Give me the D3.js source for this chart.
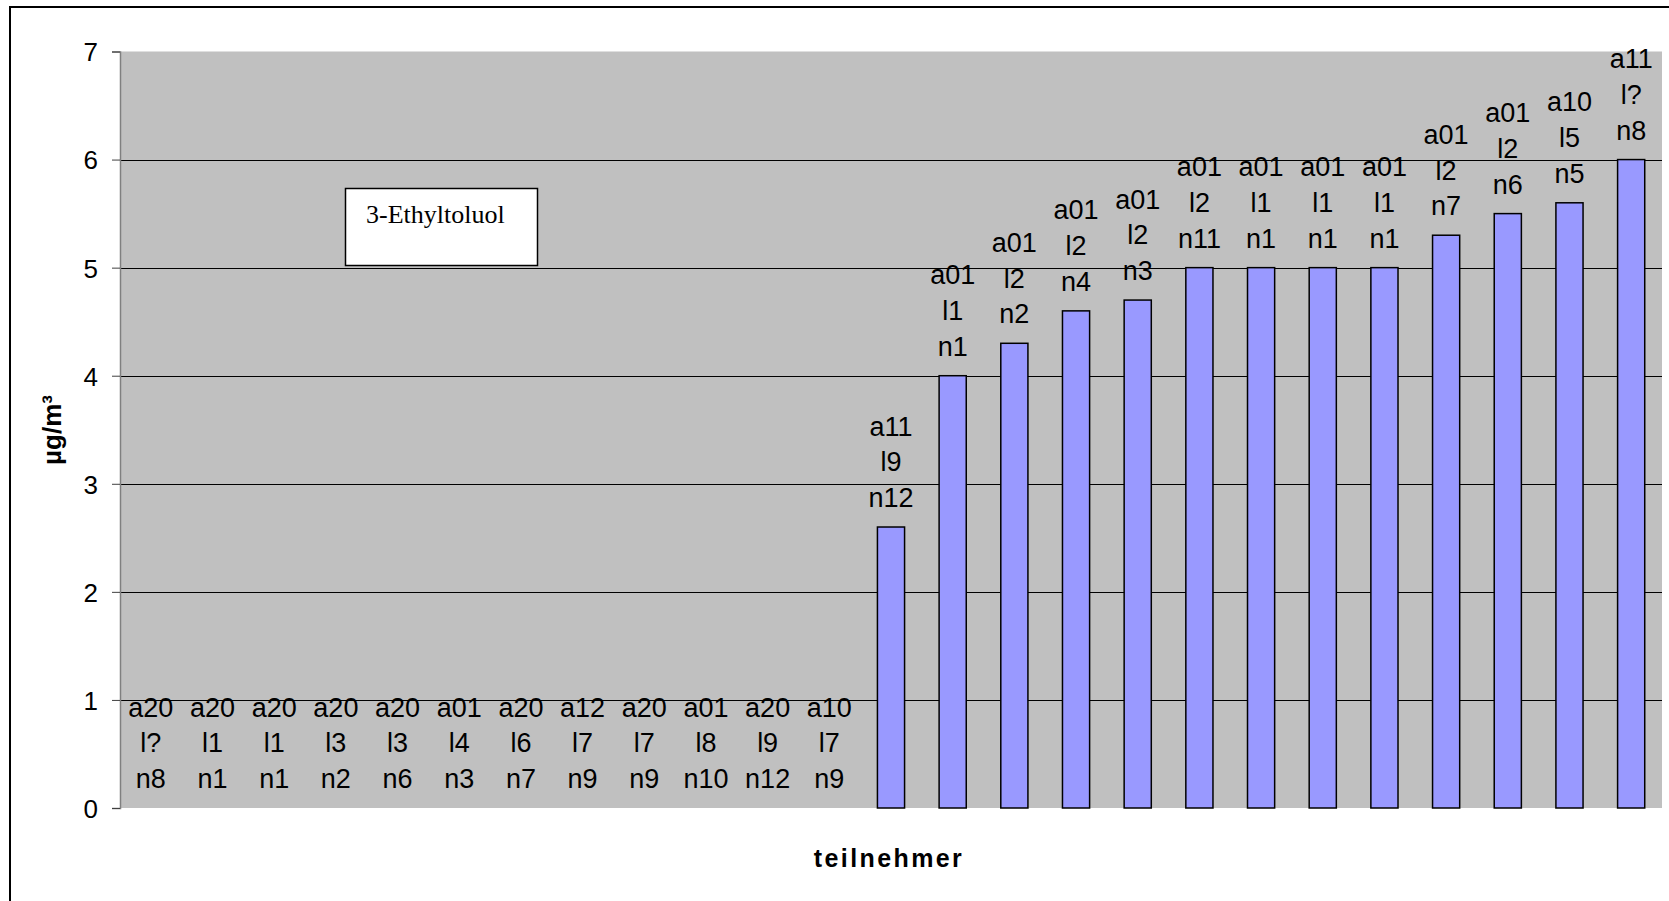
<!DOCTYPE html>
<html>
<head>
<meta charset="utf-8">
<script src="https://cdn.jsdelivr.net/npm/d3@7"></script>
<style>
  html, body { margin: 0; padding: 0; background: #fff; }
  svg { display: block; }
</style>
</head>
<body>
<svg id="chart" width="1669" height="901"></svg>
<script>
// ---- Data ----
const labelA = ["a20","a20","a20","a20","a20","a01","a20","a12","a20","a01","a20","a10",
                "a11","a01","a01","a01","a01","a01","a01","a01","a01","a01","a01","a10","a11"];
const labelL = ["l?","l1","l1","l3","l3","l4","l6","l7","l7","l8","l9","l7",
                "l9","l1","l2","l2","l2","l2","l1","l1","l1","l2","l2","l5","l?"];
const labelN = ["n8","n1","n1","n2","n6","n3","n7","n9","n9","n10","n12","n9",
                "n12","n1","n2","n4","n3","n11","n1","n1","n1","n7","n6","n5","n8"];
const values = [0,0,0,0,0,0,0,0,0,0,0,0,
                2.6,4.0,4.3,4.6,4.7,5.0,5.0,5.0,5.0,5.3,5.5,5.6,6.0];
const yTicks = [0,1,2,3,4,5,6,7];
const boxTitle = "3-Ethyltoluol";
const yTitle = "µg/m³";
const xTitle = "teilnehmer";

const data = values.map((v, i) => ({ idx: i, v, lines: [labelA[i], labelL[i], labelN[i]] }));

// ---- Layout ----
const svg = d3.select("#chart");
const plot = { left: 120, right: 1662, top: 51.5, bottom: 808 };

// outer border (extends beyond the visible image on right/bottom)
svg.append("rect")
  .attr("x", 10).attr("y", 7).attr("width", 1720).attr("height", 1000)
  .attr("fill", "#fff").attr("stroke", "#000").attr("stroke-width", 2);

const x = d3.scaleBand()
  .domain(data.map(d => d.idx))
  .range([plot.left, plot.right])
  .paddingInner(0.56).paddingOuter(0.28);

const y = d3.scaleLinear().domain([0, 7]).range([plot.bottom, plot.top]);

// plot background
svg.append("rect")
  .attr("x", plot.left).attr("y", y(7))
  .attr("width", plot.right - plot.left).attr("height", y(0) - y(7))
  .attr("fill", "#C0C0C0");

// gridlines
svg.append("g").selectAll("line")
  .data(yTicks.filter(t => t > 0 && t < 7))
  .join("line")
  .attr("x1", plot.left).attr("x2", plot.right)
  .attr("y1", d => Math.round(y(d)) + 0.5).attr("y2", d => Math.round(y(d)) + 0.5)
  .attr("stroke", "#000").attr("stroke-width", 1);

// y axis
const yAxis = d3.axisLeft(y).tickValues(yTicks).tickSize(8).tickPadding(14).tickFormat(d3.format("d"));
const gy = svg.append("g").attr("transform", `translate(${plot.left},0)`).call(yAxis);
gy.select(".domain").attr("stroke", "#808080").attr("stroke-width", 1.5);
gy.selectAll(".tick line").attr("stroke", "#404040").attr("stroke-width", 1);
gy.selectAll(".tick text")
  .attr("font-family", "'Liberation Sans', Arial, sans-serif")
  .attr("font-size", 26).attr("fill", "#000").attr("dy", "0.36em");

// bars
svg.append("g").selectAll("rect")
  .data(data.filter(d => d.v > 0))
  .join("rect")
  .attr("x", d => x(d.idx))
  .attr("y", d => y(d.v))
  .attr("width", x.bandwidth())
  .attr("height", d => y(0) - y(d.v))
  .attr("fill", "#9999FF").attr("stroke", "#000").attr("stroke-width", 1.5);

// data labels (3 lines, stacked above bar)
const lineH = 35.7;
const lbl = svg.append("g").selectAll("text")
  .data(data)
  .join("text")
  .attr("text-anchor", "middle")
  .attr("font-family", "'Liberation Sans', Arial, sans-serif")
  .attr("font-size", 27).attr("fill", "#000")
  .attr("x", d => x(d.idx) + x.bandwidth() / 2)
  .attr("y", d => y(d.v) - 20 - 2 * lineH);
lbl.selectAll("tspan")
  .data(d => d.lines.map(t => ({ t, cx: x(d.idx) + x.bandwidth() / 2 })))
  .join("tspan")
  .attr("x", d => d.cx)
  .attr("dy", (d, i) => i === 0 ? 0 : lineH)
  .text(d => d.t);

// title box
svg.append("rect")
  .attr("x", 345.5).attr("y", 188.5).attr("width", 192).attr("height", 77)
  .attr("fill", "#fff").attr("stroke", "#000").attr("stroke-width", 1.5);
svg.append("text")
  .attr("x", 366).attr("y", 223)
  .attr("font-family", "'Liberation Serif', 'Times New Roman', serif")
  .attr("font-size", 26).attr("fill", "#000")
  .text(boxTitle);

// axis titles
svg.append("text")
  .attr("transform", "translate(61,430) rotate(-90)")
  .attr("text-anchor", "middle")
  .attr("font-family", "'Liberation Sans', Arial, sans-serif")
  .attr("font-weight", "bold").attr("font-size", 26).attr("fill", "#000")
  .text(yTitle);
svg.append("text")
  .attr("x", 889).attr("y", 867)
  .attr("text-anchor", "middle")
  .attr("font-family", "'Liberation Sans', Arial, sans-serif")
  .attr("font-weight", "bold").attr("font-size", 25).attr("letter-spacing", 2.4)
  .attr("fill", "#000")
  .text(xTitle);
</script>
</body>
</html>
